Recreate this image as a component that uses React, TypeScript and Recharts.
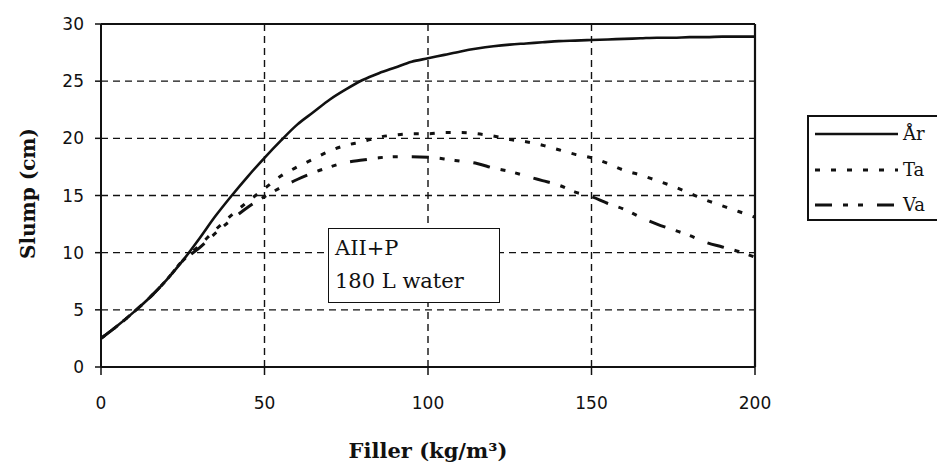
import React from 'react';
import {
  LineChart,
  Line,
  XAxis,
  YAxis,
  CartesianGrid,
  ReferenceLine,
  Legend,
  Label,
} from 'recharts';

// Filler dosage (kg/m³) and slump (cm) for each filler type
const fillerValues = [
  0, 5, 10, 15, 20, 25, 30, 35, 40, 45, 50, 55, 60, 65, 70, 75, 80, 85, 90, 95, 100,
  105, 110, 115, 120, 125, 130, 135, 140, 145, 150, 155, 160, 165, 170, 175, 180, 185,
  190, 195, 200,
];

const arSlump = [
  2.5, 3.6, 4.8, 6.1, 7.6, 9.3, 11.2, 13.2, 15.0, 16.7, 18.3, 19.8, 21.2, 22.3, 23.4,
  24.3, 25.1, 25.7, 26.2, 26.7, 27.0, 27.3, 27.6, 27.85, 28.05, 28.2, 28.3, 28.4, 28.5,
  28.55, 28.6, 28.65, 28.7, 28.75, 28.8, 28.8, 28.85, 28.85, 28.9, 28.9, 28.9,
];

const taSlump = [
  2.5, 3.6, 4.8, 6.1, 7.6, 9.3, 10.6, 12.0, 13.3, 14.5, 15.6, 16.7, 17.5, 18.2, 18.9,
  19.4, 19.7, 20.1, 20.3, 20.4, 20.4, 20.5, 20.5, 20.4, 20.2, 19.9, 19.7, 19.4, 19.0,
  18.6, 18.3, 17.8, 17.2, 16.8, 16.3, 15.8, 15.2, 14.6, 14.1, 13.6, 13.1,
];

const vaSlump = [
  2.5, 3.6, 4.8, 6.1, 7.6, 9.3, 10.4, 11.7, 12.9, 14.0, 14.9, 15.7, 16.4, 17.0, 17.5,
  17.9, 18.1, 18.3, 18.4, 18.4, 18.35, 18.2, 18.0, 17.8, 17.4, 17.1, 16.7, 16.3, 15.9,
  15.3, 14.9, 14.3, 13.8, 13.1, 12.5, 12.0, 11.5, 10.9, 10.5, 10.1, 9.6,
];

const xTicks = [0, 50, 100, 150, 200];
const yTicks = [0, 5, 10, 15, 20, 25, 30];

const seriesNames = ['År', 'Ta', 'Va'];

const data = fillerValues.map((filler, i) => ({
  filler,
  ar: arSlump[i],
  ta: taSlump[i],
  va: vaSlump[i],
}));

const INK = '#111';
const SERIF = '"DejaVu Serif", serif';
const SANS = '"DejaVu Sans", sans-serif';

const seriesStyles = [
  { key: 'ar', dash: undefined as string | undefined, width: 2.6 },
  { key: 'ta', dash: '5 11', width: 3 },
  { key: 'va', dash: '17 11 5 10 5 14', width: 3 },
];

function LegendBox() {
  const rowY = [19, 55, 90];
  return (
    <svg width={140} height={106} style={{ display: 'block' }}>
      <rect x={1} y={1} width={150} height={104} fill="#fff" stroke={INK} strokeWidth={2} />
      {seriesStyles.map((s, i) => (
        <g key={s.key}>
          <line
            x1={8}
            x2={91}
            y1={rowY[i]}
            y2={rowY[i]}
            stroke={INK}
            strokeWidth={s.width}
            strokeDasharray={s.dash}
          />
          <text x={96} y={rowY[i] + 6} fontFamily={SERIF} fontSize={18} fill={INK}>
            {seriesNames[i]}
          </text>
        </g>
      ))}
    </svg>
  );
}

function YTitle(props: any) {
  const vb = props.viewBox || { x: 0, y: 24, width: 101, height: 343 };
  const cx = 28;
  const cy = vb.y + vb.height / 2 - 2;
  return (
    <text
      x={cx}
      y={cy}
      transform={`rotate(-90 ${cx} ${cy})`}
      textAnchor="middle"
      dominantBaseline="central"
      fontFamily={SERIF}
      fontWeight="bold"
      fontSize={20}
      fill={INK}
    >
      Slump (cm)
    </text>
  );
}

export default function App() {
  return (
    <div style={{ position: 'absolute', left: 0, top: 0, width: 937, height: 467, background: '#fff' }}>
      <LineChart
        width={937}
        height={467}
        data={data}
        margin={{ top: 24, right: 182, bottom: 0, left: 0 }}
      >
        <CartesianGrid stroke={INK} strokeWidth={1.4} strokeDasharray="7 5" />
        <XAxis
          type="number"
          dataKey="filler"
          domain={[0, 200]}
          ticks={xTicks}
          height={100}
          tickSize={8}
          tickMargin={22}
          axisLine={{ stroke: INK, strokeWidth: 2 }}
          tickLine={{ stroke: INK, strokeWidth: 1.5 }}
          tick={{ fontFamily: SANS, fontSize: 17, fill: INK }}
        >
          <Label
            value="Filler (kg/m³)"
            position="insideBottom"
            offset={9}
            style={{ fontFamily: SERIF, fontWeight: 'bold', fontSize: 21, fill: INK }}
          />
        </XAxis>
        <YAxis
          type="number"
          domain={[0, 30]}
          ticks={yTicks}
          width={101}
          tickSize={6}
          tickMargin={11}
          axisLine={{ stroke: INK, strokeWidth: 2 }}
          tickLine={{ stroke: INK, strokeWidth: 1.5 }}
          tick={{ fontFamily: SANS, fontSize: 17, fill: INK }}
        >
          <Label content={<YTitle />} />
        </YAxis>
        <ReferenceLine y={30} stroke={INK} strokeWidth={2.2} />
        <ReferenceLine x={200} stroke={INK} strokeWidth={2.2} />
        {seriesStyles.map((s) => (
          <Line
            key={s.key}
            type="monotone"
            dataKey={s.key}
            stroke={INK}
            strokeWidth={s.width}
            strokeDasharray={s.dash}
            dot={false}
            activeDot={false}
            isAnimationActive={false}
          />
        ))}
        <Legend
          layout="vertical"
          align="center"
          verticalAlign="middle"
          content={() => <LegendBox />}
          wrapperStyle={{ position: 'absolute', left: 807, top: 115, width: 140, height: 106 }}
        />
      </LineChart>
      <div
        style={{
          position: 'absolute',
          left: 328,
          top: 228,
          width: 164,
          height: 70,
          border: `1.5px solid ${INK}`,
          background: '#fff',
          fontFamily: SERIF,
          fontSize: 21,
          color: INK,
          paddingLeft: 6,
          paddingTop: 3,
          lineHeight: '33px',
          boxSizing: 'content-box',
        }}
      >
        <div>AII+P</div>
        <div>180 L water</div>
      </div>
    </div>
  );
}
